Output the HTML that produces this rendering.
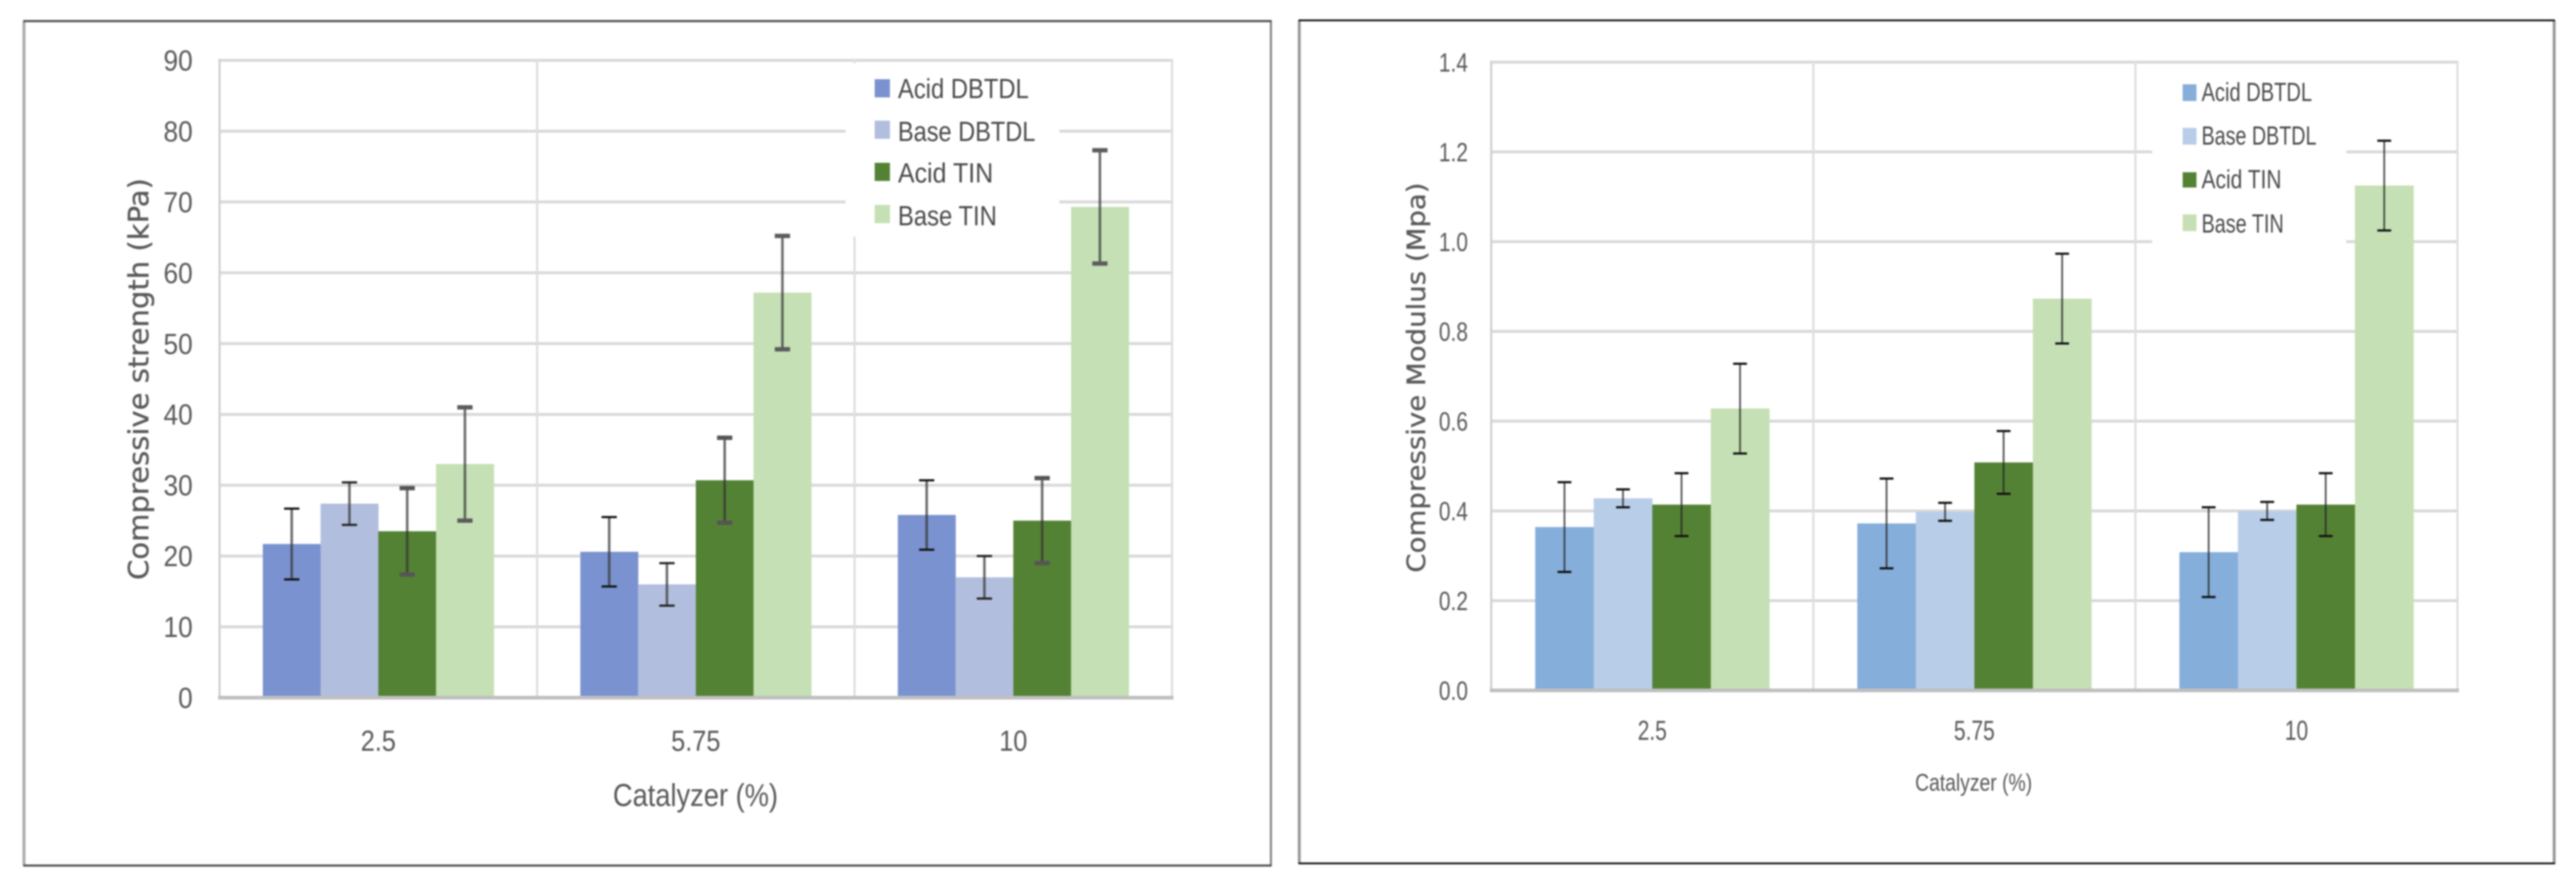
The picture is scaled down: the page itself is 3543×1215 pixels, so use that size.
<!DOCTYPE html>
<html lang="en">
<head>
<meta charset="utf-8">
<title>Compressive strength and modulus charts</title>
<style>
  html, body { margin: 0; padding: 0; background: #ffffff; }
  body { width: 3543px; height: 1215px; overflow: hidden; }
  svg { display: block; filter: blur(1.1px); }
  .num { font-family: "Liberation Sans", sans-serif; fill: #595959; }
  .title { font-family: "DejaVu Sans", sans-serif; fill: #595959; stroke: #595959; stroke-width: 0.4px; }
  .leg { font-family: "Liberation Sans", sans-serif; fill: #4a4a4a; }
</style>
</head>
<body>
<svg id="figure" xmlns="http://www.w3.org/2000/svg" width="3543" height="1215" viewBox="0 0 3543 1215">
  <rect x="0" y="0" width="3543" height="1215" fill="#ffffff"/>

  <g id="strength-panel">
    <g id="strength-grid"></g>
    <g id="strength-legend-box">
      <rect x="1163" y="87" width="294" height="239" fill="#ffffff"/>
    </g>
    <g id="strength-marks"></g>
    <g id="strength-ticks"></g>
    <g>
      <rect x="1203" y="109" width="21" height="25" fill="#7a92cf"/>
      <text class="leg" x="1235" y="135" font-size="38" textLength="180" lengthAdjust="spacingAndGlyphs">Acid DBTDL</text>
      <rect x="1203" y="166" width="21" height="25" fill="#b2bedd"/>
      <text class="leg" x="1235" y="194" font-size="38" textLength="189" lengthAdjust="spacingAndGlyphs">Base DBTDL</text>
      <rect x="1203" y="224" width="21" height="25" fill="#548235"/>
      <text class="leg" x="1235" y="251" font-size="38" textLength="131" lengthAdjust="spacingAndGlyphs">Acid TIN</text>
      <rect x="1203" y="282" width="21" height="25" fill="#c5e0b4"/>
      <text class="leg" x="1235" y="310" font-size="38" textLength="136" lengthAdjust="spacingAndGlyphs">Base TIN</text>
    </g>
    <text class="title" transform="translate(204,798) rotate(-90)" font-size="38" textLength="553" lengthAdjust="spacingAndGlyphs">Compressive strength (kPa)</text>
    <text class="num" x="843" y="1109" font-size="44" textLength="227" lengthAdjust="spacingAndGlyphs">Catalyzer (%)</text>
    <g>
      <line x1="33" y1="29" x2="33" y2="1191" stroke="#aaaaaa" stroke-width="4"/>
      <line x1="1748" y1="29" x2="1748" y2="1191" stroke="#888888" stroke-width="3"/>
      <line x1="32" y1="29" x2="1749" y2="29" stroke="#555555" stroke-width="3"/>
      <line x1="32" y1="1191" x2="1749" y2="1191" stroke="#555555" stroke-width="3"/>
    </g>
  </g>

  <g id="modulus-panel">
    <g id="modulus-grid"></g>
    <g id="modulus-legend-box">
      <rect x="2960" y="88" width="267" height="250" fill="#ffffff"/>
    </g>
    <g id="modulus-marks"></g>
    <g id="modulus-ticks"></g>
    <g>
      <rect x="3002" y="116" width="19" height="23" fill="#85aedb"/>
      <text class="leg" x="3028" y="139" font-size="36" textLength="152" lengthAdjust="spacingAndGlyphs">Acid DBTDL</text>
      <rect x="3002" y="176" width="19" height="23" fill="#b8cde8"/>
      <text class="leg" x="3028" y="199" font-size="36" textLength="158" lengthAdjust="spacingAndGlyphs">Base DBTDL</text>
      <rect x="3002" y="237" width="19" height="21" fill="#548235"/>
      <text class="leg" x="3028" y="259" font-size="36" textLength="110" lengthAdjust="spacingAndGlyphs">Acid TIN</text>
      <rect x="3002" y="295" width="19" height="23" fill="#c5e0b4"/>
      <text class="leg" x="3028" y="320" font-size="36" textLength="113" lengthAdjust="spacingAndGlyphs">Base TIN</text>
    </g>
    <text class="title" transform="translate(1960,788) rotate(-90)" font-size="35" textLength="537" lengthAdjust="spacingAndGlyphs">Compressive Modulus (Mpa)</text>
    <text class="num" x="2634" y="1088" font-size="33" textLength="161" lengthAdjust="spacingAndGlyphs">Catalyzer (%)</text>
    <g>
      <line x1="1787" y1="28" x2="1787" y2="1189" stroke="#999999" stroke-width="4"/>
      <line x1="3513" y1="28" x2="3513" y2="1189" stroke="#999999" stroke-width="4"/>
      <line x1="1786" y1="28" x2="3514" y2="28" stroke="#111111" stroke-width="2.5"/>
      <line x1="1786" y1="1188" x2="3514" y2="1188" stroke="#111111" stroke-width="2.5"/>
    </g>
  </g>
</svg>

<script>
// Shared categories and series
const categories = ['2.5', '5.75', '10'];
const seriesKeys = ['acid-dbtdl', 'base-dbtdl', 'acid-tin', 'base-tin'];

// Left chart: compressive strength (kPa)
const strengthTicks = [0, 10, 20, 30, 40, 50, 60, 70, 80, 90];
const strengthAcidDbtdl = [21.7, 20.6, 25.8];
const strengthBaseDbtdl = [27.4, 16.0, 17.0];
const strengthAcidTin = [23.5, 30.7, 25.0];
const strengthBaseTin = [33.0, 57.2, 69.3];
const strengthAcidDbtdlErr = [5.0, 4.9, 4.9];
const strengthBaseDbtdlErr = [3.0, 3.0, 3.0];
const strengthAcidTinErr = [6.1, 6.0, 6.0];
const strengthBaseTinErr = [8.0, 8.0, 8.0];

// Right chart: compressive modulus (MPa)
const modulusTicks = [0, 0.2, 0.4, 0.6, 0.8, 1.0, 1.2, 1.4];
const modulusAcidDbtdl = [0.364, 0.372, 0.308];
const modulusBaseDbtdl = [0.428, 0.398, 0.400];
const modulusAcidTin = [0.414, 0.508, 0.414];
const modulusBaseTin = [0.628, 0.873, 1.125];
const modulusAcidDbtdlErr = [0.10, 0.10, 0.10];
const modulusBaseDbtdlErr = [0.02, 0.02, 0.02];
const modulusAcidTinErr = [0.07, 0.07, 0.07];
const modulusBaseTinErr = [0.10, 0.10, 0.10];

const SVG_NS = 'http://www.w3.org/2000/svg';

function make(tag, attrs, parent) {
  const el = document.createElementNS(SVG_NS, tag);
  for (const k in attrs) { el.setAttribute(k, attrs[k]); }
  parent.appendChild(el);
  return el;
}

function squeeze(el, factor) {
  const natural = el.getComputedTextLength();
  el.setAttribute('textLength', (natural * factor).toFixed(1));
  el.setAttribute('lengthAdjust', 'spacingAndGlyphs');
}

function drawChart(cfg) {
  const grid = document.getElementById(cfg.id + '-grid');
  const marks = document.getElementById(cfg.id + '-marks');
  const tickGroup = document.getElementById(cfg.id + '-ticks');

  const groupW = (cfg.right - cfg.left) / cfg.categories.length;
  const barW = (groupW - 2 * cfg.gap) / cfg.series.length;
  const yMin = cfg.ticks[0];
  const yMax = cfg.ticks[cfg.ticks.length - 1];
  const yScale = function (v) {
    return cfg.bottom - (v - yMin) / (yMax - yMin) * (cfg.bottom - cfg.top);
  };
  const xBand = function (c) { return cfg.left + c * groupW; };

  // horizontal gridlines and y tick labels
  cfg.ticks.forEach(function (t) {
    const y = yScale(t);
    if (t !== yMin) {
      const line = make('line', { x1: cfg.left, x2: cfg.right, y1: y, y2: y, stroke: '#d9d9d9', 'stroke-width': 4 }, grid);
      
      
    }
    const label = make('text', { class: 'num', x: cfg.yLabelX, y: y + cfg.yLabelDy, 'text-anchor': 'end', 'font-size': cfg.yFont }, tickGroup);
    label.textContent = t.toFixed(cfg.decimals);
    
    
    squeeze(label, cfg.ySqueeze);
  });

  // vertical gridlines
  for (let c = 0; c <= cfg.categories.length; c++) {
    const x = xBand(c);
    const vline = make('line', { x1: x, x2: x, y1: cfg.top - 2, y2: cfg.bottom, stroke: c === 0 ? '#d0d0d0' : '#dedede', 'stroke-width': 3 }, grid);
    
    
  }

  // bars
  cfg.series.forEach(function (values, s) {
    values.forEach(function (v, c) {
      const x = xBand(c) + cfg.gap + s * barW;
      const y = yScale(v);
      const bar = make('rect', { x: x, y: y, width: barW + 0.3, height: yScale(yMin) - y, fill: cfg.colors[s] }, marks);
      
      
    });
  });

  // error bars
  cfg.series.forEach(function (values, s) {
    values.forEach(function (v, c) {
      const cx = xBand(c) + cfg.gap + (s + 0.5) * barW;
      const e = cfg.errors[s][c];
      const yHi = yScale(v + e);
      const yLo = yScale(v - e);
      const stem = make('line', { x1: cx, x2: cx, y1: yHi, y2: yLo, stroke: cfg.errColor, 'stroke-width': cfg.stemW, 'stroke-opacity': cfg.errOpacity }, marks);
      
      
      [yHi, yLo].forEach(function (yc, k) {
        const cap = make('line', { x1: cx - cfg.capW / 2, x2: cx + cfg.capW / 2, y1: yc, y2: yc, stroke: cfg.capColors[s], 'stroke-width': cfg.capT[s] }, marks);
        
        
      });
    });
  });

  // category labels
  cfg.categories.forEach(function (name, c) {
    const label = make('text', { class: 'num', x: xBand(c) + groupW / 2, y: cfg.xLabelY, 'text-anchor': 'middle', 'font-size': cfg.xFont }, tickGroup);
    label.textContent = name;
    
    
    squeeze(label, cfg.xSqueeze);
  });

  // x axis line on top of the bars
  const axis = make('line', { x1: cfg.left - 2, x2: cfg.right + 2, y1: cfg.bottom, y2: cfg.bottom, stroke: '#bfbfbf', 'stroke-width': 5 }, marks);
  
  
}

drawChart({
  id: 'strength',
  categories: categories,
  ticks: strengthTicks,
  decimals: 0,
  series: [strengthAcidDbtdl, strengthBaseDbtdl, strengthAcidTin, strengthBaseTin],
  errors: [strengthAcidDbtdlErr, strengthBaseDbtdlErr, strengthAcidTinErr, strengthBaseTinErr],
  colors: ['#7a92cf', '#b2bedd', '#548235', '#c5e0b4'],
  left: 302, right: 1612, top: 83, bottom: 960, gap: 59.5,
  yLabelX: 265, yLabelDy: 14, yFont: 40, ySqueeze: 0.9,
  xLabelY: 1033, xFont: 40, xSqueeze: 0.87,
  stemW: 3.5, capW: 21, errColor: '#333333', errOpacity: 0.72,
  capColors: ['#111111', '#222222', '#555555', '#5c5c5c'],
  capT: [3, 3, 6, 6]
});

drawChart({
  id: 'modulus',
  categories: categories,
  ticks: modulusTicks,
  decimals: 1,
  series: [modulusAcidDbtdl, modulusBaseDbtdl, modulusAcidTin, modulusBaseTin],
  errors: [modulusAcidDbtdlErr, modulusBaseDbtdlErr, modulusAcidTinErr, modulusBaseTinErr],
  colors: ['#85aedb', '#b8cde8', '#548235', '#c5e0b4'],
  left: 2051, right: 3380, top: 85.5, bottom: 950, gap: 60.5,
  yLabelX: 2019, yLabelDy: 13, yFont: 36, ySqueeze: 0.8,
  xLabelY: 1018, xFont: 38, xSqueeze: 0.76,
  stemW: 2.5, capW: 19, errColor: '#222222', errOpacity: 0.75,
  capColors: ['#111111', '#111111', '#111111', '#111111'],
  capT: [3, 3, 3, 3]
});
</script>
</body>
</html>
